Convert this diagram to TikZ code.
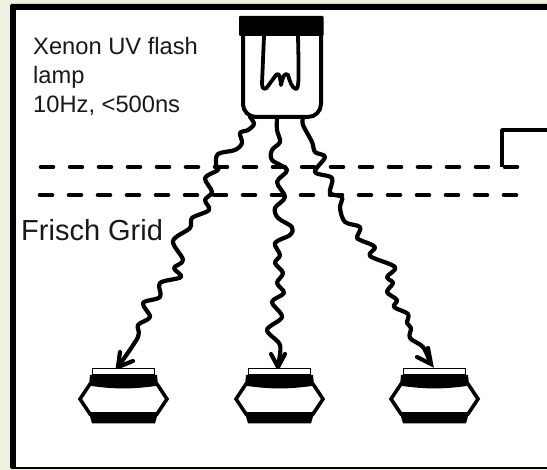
\documentclass[tikz,border=0pt]{standalone}
\usepackage{fontspec}
\setmainfont{Liberation Sans}
\definecolor{cream}{HTML}{EEF1DF}
\tikzset{
  wave/.style={line width=4.2pt,line cap=round,line join=round},
  barb/.style={line width=4.2pt,line cap=round,line join=miter},
  gridline/.style={line width=4.6pt,line cap=round,dash pattern=on 12pt off 17pt},
  wirestep/.style={line width=3.6pt,line join=round},
  label/.style={inner sep=0pt,anchor=base west,text=black!90},
  detector/.pic={
    \fill[black] (90,375) -- (157,375) -- (158,385) -- (89,385) -- cycle;
    \draw[line width=1.6pt,fill=white] (92.5,368.5) rectangle (154.5,375);
    \draw[line width=3.6pt,line join=miter,fill=white] (90,384) .. controls (115,387.5) and (132,387.5) .. (157,384) -- (167,399) -- (157,414) -- (90,414) -- (80,399) -- cycle;
    \fill[black] (89,413) -- (158,413) -- (155,423.5) -- (92,423.5) -- cycle;
  }
}
\begin{document}
\begin{tikzpicture}[x=1pt,y=-1pt]
\useasboundingbox (0,0) rectangle (547,470);
\fill[cream] (0,0) rectangle (547,470);
\fill[black,rounded corners=1.5pt] (10,4) rectangle (560,469);
\fill[white] (16,10) rectangle (547,467.5);

% grid lines
\draw[gridline] (41,167) -- (520,167);
\draw[gridline] (40,195) -- (519,195);
\coordinate (wireB) at (502,167);
\coordinate (wireC) at (502,130);
\coordinate (wireD) at (547,130);
\draw[wirestep] (wireB) -- (wireC) -- (wireD);

% waves
\draw[wave] plot[smooth,tension=.55] coordinates {(250,117) (254,124) (248,130) (240,133) (242,143) (235,150) (218,154) (216,165) (218,170) (205,178) (212,192) (205,200) (209,210) (192,218) (190,228) (173,241) (183,260) (174,268) (181,277) (160,283) (160,297) (143,303) (150,317) (138,325) (138,337) (120,364)};
\draw[wave] plot[smooth,tension=.55] coordinates {(277,118) (277,130) (280,142) (272,150) (272,160) (287,170) (277,182) (285,197) (275,208) (278,218) (292,227) (290,235) (275,243) (280,255) (275,263) (283,273) (277,283) (284,293) (272,302) (282,317) (267,330) (280,345) (278,365)};
\draw[wave] plot[smooth,tension=.55] coordinates {(303,118) (303,125) (312,142) (315,152) (325,157) (315,172) (332,178) (330,193) (342,197) (340,208) (345,222) (360,227) (357,237) (360,240) (375,247) (370,256) (395,267) (387,277) (393,283) (387,292) (397,300) (394,307) (408,314) (407,323) (411,328) (410,338) (423,347) (430,362)};

% arrow barbs
\coordinate (tipA) at (118,367);
\coordinate (tipB) at (278,367);
\coordinate (tipC) at (431,364);
\draw[barb] (120,352) -- (tipA) -- (133,361);
\draw[barb] (271,354) -- (tipB) -- (285,354);
\draw[barb] (428,348) -- (tipC) -- (417,357);

% lamp
\draw[line width=4pt,fill=white,rounded corners=13pt] (243,30) -- (243,117) -- (321,117) -- (321,30);
\fill[black,rounded corners=1pt] (239,16) rectangle (323.5,36);
\draw[line width=3.8pt,line join=round,line cap=round] (264,36) -- (262,84) .. controls (262,90) and (266,90) .. (268,86) -- (276,75) .. controls (279,72) and (280,76) .. (281,85) .. controls (283,76) and (285,72) .. (288,75) .. controls (290,82) and (292,88) .. (296,89) .. controls (299,88) and (299,80) .. (298,36);

% detectors
\pic {detector};
\pic[xshift=156pt] {detector};
\pic[xshift=311pt] {detector};

% labels
\node[label,font=\fontsize{23.7}{24}\selectfont] (xenon1) at (33,55) {Xenon UV flash};
\node[label,font=\fontsize{23.7}{24}\selectfont] (xenon2) at (33,84) {lamp};
\node[label,font=\fontsize{23.7}{24}\selectfont] (xenon3) at (33,113) {10Hz, <500ns};
\node[label,font=\fontsize{29}{29}\selectfont] (frisch) at (21,241) {Frisch Grid};
\end{tikzpicture}
\end{document}
